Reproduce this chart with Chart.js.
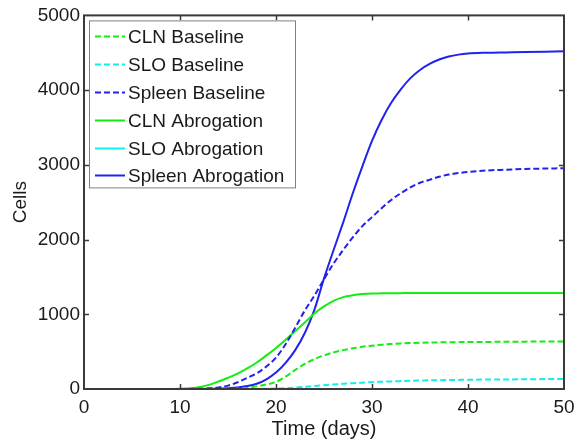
<!DOCTYPE html>
<html>
<head>
<meta charset="utf-8">
<script src="https://cdn.jsdelivr.net/npm/chart.js@4.4.0/dist/chart.umd.min.js"></script>
<style>
  html, body { margin: 0; padding: 0; background: #fff; }
  #wrap { width: 574px; height: 442px; }
</style>
</head>
<body>
<div id="wrap"><canvas id="chartCells" width="574" height="442"></canvas></div>
<script>
// time axis (days)
const days = [9, 10, 11, 12, 13, 14, 15, 16, 17, 18, 19, 20, 21, 22, 23, 24, 25, 26, 27, 28, 29, 30,
              31, 32, 33, 34, 35, 36, 37, 38, 39, 40, 42, 44, 46, 48, 50];

const clnBaseline = [0, 0, 0, 0, 0, 0, 0, 5, 15, 35, 60, 95, 165, 255, 335, 400, 450, 490, 520, 545, 565, 580,
                     592, 602, 610, 615, 619, 622, 624, 626, 627, 628, 630, 632, 634, 636, 637];
const sloBaseline = [0, 0, 0, 0, 0, 0, 0, 0, 0, 0, 2, 6, 12, 20, 30, 40, 50, 60, 70, 78, 85, 92,
                     97, 102, 106, 110, 113, 116, 118, 120, 122, 124, 126, 128, 130, 133, 135];
const spleenBaseline = [0, 0, 1, 4, 10, 20, 45, 90, 150, 210, 300, 420, 600, 820, 1050, 1250, 1470, 1680, 1860, 2030, 2180, 2300,
                        2420, 2530, 2620, 2700, 2760, 2800, 2840, 2870, 2890, 2905, 2925, 2935, 2945, 2950, 2955];
const clnAbrogation = [0, 3, 10, 25, 55, 100, 150, 205, 275, 355, 450, 550, 660, 775, 890, 1010, 1105, 1180, 1230, 1255, 1270, 1278,
                       1280, 1282, 1283, 1284, 1284, 1285, 1285, 1285, 1285, 1285, 1285, 1285, 1285, 1285, 1285];
const sloAbrogation = [0, 0, 0, 0, 0, 0, 0, 0, 0, 0, 0, 0, 0, 0, 0, 0, 0, 0, 0, 0, 0, 0,
                       0, 0, 0, 0, 0, 0, 0, 0, 0, 0, 0, 0, 0, 0, 0];
const spleenAbrogation = [0, 0, 0, 1, 2, 5, 10, 20, 40, 70, 130, 220, 350, 520, 750, 1060, 1480, 1860, 2230, 2620, 2980, 3320,
                          3600, 3830, 4010, 4160, 4270, 4350, 4410, 4450, 4475, 4490, 4500, 4505, 4510, 4515, 4520];

const xTicks = [0, 10, 20, 30, 40, 50];
const yTicks = [0, 1000, 2000, 3000, 4000, 5000];

const FONT = "'Liberation Sans', Arial, sans-serif";

function pts(values) {
    return days.map((d, i) => ({ x: d, y: values[i] }));
}

function series(label, values, color, dashed) {
    return {
        label: label,
        data: pts(values),
        borderColor: color,
        backgroundColor: color,
        borderWidth: 2,
        borderDash: dashed ? [6, 3] : [],
        pointRadius: 0,
        fill: false,
        cubicInterpolationMode: "monotone"
    };
}

// matlab style box with inward ticks
const boxPlugin = {
    id: "box",
    afterDatasetsDraw(chart) {
        const ctx = chart.ctx;
        const a = chart.chartArea;
        const xs = chart.scales.x, ys = chart.scales.y;
        ctx.save();
        ctx.strokeStyle = "#3a3a3a";
        ctx.lineWidth = 2;
        ctx.strokeRect(a.left, a.top, a.right - a.left, a.bottom - a.top);
        ctx.lineWidth = 1.5;
        ctx.beginPath();
        xTicks.slice(1, -1).forEach(v => {
            const px = Math.round(xs.getPixelForValue(v)) + 0.5;
            ctx.moveTo(px, a.bottom); ctx.lineTo(px, a.bottom - 5);
            ctx.moveTo(px, a.top); ctx.lineTo(px, a.top + 5);
        });
        yTicks.slice(1, -1).forEach(v => {
            const py = Math.round(ys.getPixelForValue(v)) + 0.5;
            ctx.moveTo(a.left, py); ctx.lineTo(a.left + 5, py);
            ctx.moveTo(a.right, py); ctx.lineTo(a.right - 5, py);
        });
        ctx.stroke();
        ctx.restore();
    }
};

// legend box in upper left corner of the axes
const legendPlugin = {
    id: "boxLegend",
    afterDraw(chart) {
        const ctx = chart.ctx;
        const a = chart.chartArea;
        const x0 = a.left + 5, y0 = a.top + 5, w = 206, h = 167;
        ctx.save();
        ctx.fillStyle = "#fff";
        ctx.fillRect(x0, y0, w, h);
        ctx.strokeStyle = "#808080";
        ctx.lineWidth = 1;
        ctx.strokeRect(x0 + 0.5, y0 + 0.5, w, h);
        ctx.font = "19px " + FONT;
        ctx.textBaseline = "middle";
        chart.data.datasets.forEach((ds, i) => {
            const y = Math.round(y0 + 16 + i * 27.8) + 0.5;
            ctx.strokeStyle = ds.borderColor;
            ctx.lineWidth = 2;
            ctx.setLineDash(ds.borderDash);
            ctx.beginPath();
            ctx.moveTo(x0 + 6, y);
            ctx.lineTo(x0 + 36, y);
            ctx.stroke();
            ctx.setLineDash([]);
            ctx.fillStyle = "#1a1a1a";
            ctx.fillText(ds.label, x0 + 39, y + 1);
        });
        ctx.restore();
    }
};

new Chart(document.getElementById("chartCells"), {
    type: "line",
    data: {
        datasets: [
            series("CLN Baseline", clnBaseline, "#11ee11", true),
            series("SLO Baseline", sloBaseline, "#11eeee", true),
            series("Spleen Baseline", spleenBaseline, "#2222ee", true),
            series("CLN Abrogation", clnAbrogation, "#11ee11", false),
            series("SLO Abrogation", sloAbrogation, "#11eeee", false),
            series("Spleen Abrogation", spleenAbrogation, "#2222ee", false)
        ]
    },
    options: {
        responsive: false,
        animation: false,
        layout: { padding: { top: 13, right: 10, left: 0, bottom: 0 } },
        plugins: {
            legend: { display: false },
            tooltip: { enabled: false }
        },
        scales: {
            x: {
                type: "linear",
                min: 0,
                max: 50,
                afterBuildTicks: s => { s.ticks = xTicks.map(v => ({ value: v })); },
                afterFit: s => { s.height = 53; s.paddingLeft = 0; s.paddingRight = 0; },
                grid: { display: false, drawTicks: false },
                border: { display: false },
                ticks: { color: "#1a1a1a", padding: 7, maxRotation: 0, autoSkip: false,
                         callback: v => String(v), font: { family: FONT, size: 19 } },
                title: { display: true, text: "Time (days)", color: "#1a1a1a", padding: { top: 0, bottom: 1 }, font: { family: FONT, size: 20 } }
            },
            y: {
                min: 0,
                max: 5000,
                afterBuildTicks: s => { s.ticks = yTicks.map(v => ({ value: v })); },
                afterFit: s => { s.width = 84; },
                grid: { display: false, drawTicks: false },
                border: { display: false },
                ticks: { color: "#1a1a1a", padding: 4, callback: v => String(v), font: { family: FONT, size: 19 } },
                title: { display: true, text: "Cells", color: "#1a1a1a", padding: { top: 9, bottom: 0 }, font: { family: FONT, size: 19 } }
            }
        }
    },
    plugins: [boxPlugin, legendPlugin]
});
</script>
</body>
</html>
